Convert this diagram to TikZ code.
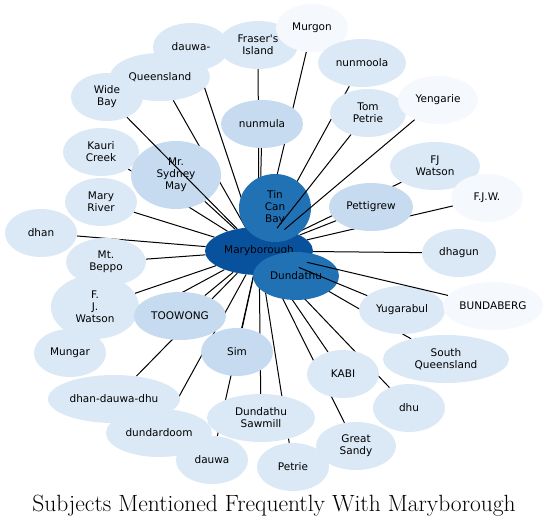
\documentclass[tikz,border=0pt]{standalone}
\usepackage{fontspec}
\newfontfamily\labelfont{DejaVu Sans}
\usetikzlibrary{shapes.geometric}
\pgfdeclarelayer{background}
\pgfsetlayers{background,main}

\definecolor{palest}{HTML}{F5F9FE}
\definecolor{pale}{HTML}{DBE9F6}
\definecolor{midblue}{HTML}{C6DBEF}
\definecolor{darkblue}{HTML}{2171B5}
\definecolor{deepblue}{HTML}{08519C}

\begin{document}
\begin{tikzpicture}[
  x=1pt, y=-1pt,
  bubble/.style={ellipse,draw=none,inner sep=0pt,align=center,
                 font=\labelfont\fontsize{10.5}{12}\selectfont,
                 minimum width=72pt,minimum height=48pt},
  t1/.style={bubble,fill=palest},
  t2/.style={bubble,fill=pale},
  t3/.style={bubble,fill=midblue},
  t4/.style={bubble,fill=darkblue},
  t5/.style={bubble,fill=deepblue},
  link/.style={line width=1pt,black}
]
\useasboundingbox (0,0) rectangle (549,527);

% outer ring
\node[t2,minimum width=100pt] (qld)    at (160,77)  {Queensland};
\node[t2] (widebay) at (107,97)  {Wide\\Bay};
\node[t2,minimum width=76pt]  (dauwah) at (191,47)  {dauwa-};
\node[t2,minimum width=80pt]  (fraser) at (258,45)  {Fraser's\\Island};
\node[t1] (murgon)  at (312,28)  {Murgon};
\node[t2,minimum width=88pt]  (nunmoola) at (362,63) {nunmoola};
\node[t2,minimum width=76pt]  (tompetrie) at (368,113) {Tom\\Petrie};
\node[t1,minimum width=80pt]  (yengarie) at (438,100) {Yengarie};
\node[t3,minimum width=82pt]  (nunmula) at (262,124) {nunmula};
\node[t2,minimum width=76pt]  (kauri)   at (101,152) {Kauri\\Creek};
\node[t3,minimum width=90pt,minimum height=68pt] (sydney) at (176,175) {Mr.\\Sydney\\May};
\node[t2,minimum width=90pt]  (fjwatson) at (435,166) {FJ\\Watson};
\node[t1] (fjw)     at (487,198) {F.J.W.};
\node[t3,minimum width=84pt]  (pettigrew) at (371,207) {Pettigrew};
\node[t2] (maryriver) at (101,202) {Mary\\River};
\node[t2] (dhan)    at (41,233)  {dhan};
\node[t2,minimum width=80pt]  (beppo)   at (106,262) {Mt.\\Beppo};
\node[t2,minimum width=88pt,minimum height=64pt] (fjwat) at (95,307) {F.\\J.\\Watson};
\node[t2] (mungar)  at (70,353)  {Mungar};
\node[t3,minimum width=92pt]  (toowong) at (180,316) {TOOWONG};
\node[t3] (sim)     at (237,352) {Sim};
\node[t2,minimum width=74pt]  (dhagun)  at (459,253) {dhagun};
\node[t2,minimum width=86pt]  (yugarabul) at (402,310) {Yugarabul};
\node[t1,minimum width=100pt] (bundaberg) at (493,306) {BUNDABERG};
\node[t2,minimum width=126pt] (southqld) at (446,359) {South\\Queensland};
\node[t2] (kabi)    at (343,374) {KABI};
\node[t2] (dhu)     at (409,408) {dhu};
\node[t2,minimum width=132pt] (ddd)     at (114,399) {dhan-dauwa-dhu};
\node[t2,minimum width=106pt] (dundardoom) at (159,433) {dundardoom};
\node[t2] (dauwa)   at (212,460) {dauwa};
\node[t2,minimum width=108pt] (sawmill) at (261,418) {Dundathu\\Sawmill};
\node[t2,minimum width=80pt]  (greatsandy) at (356,446) {Great\\Sandy};
\node[t2] (petrie)  at (293,467) {Petrie};

% centre
\node[t5,minimum width=108pt] (mboro) at (259,251) {Maryborough};
\node[t4,minimum width=72pt,minimum height=68pt] (tincan) at (275,208) {Tin\\Can\\Bay};
\node[t4,minimum width=86pt] (dundathu) at (296,276) {Dundathu};

\begin{pgfonlayer}{background}
\foreach \n in {qld,dauwah,fraser,murgon,nunmoola,nunmula,kauri,sydney,
                fjwatson,fjw,pettigrew,maryriver,dhan,beppo,fjwat,mungar,
                toowong,sim,dhagun,southqld,kabi,dhu,ddd,dundardoom,dauwa,
                sawmill,greatsandy,petrie}
  \draw[link] (mboro) -- (\n);
\end{pgfonlayer}
\foreach \n in {widebay,tompetrie,yengarie,yugarabul,bundaberg}
  \draw[link] (mboro) -- (\n);

\node[font=\fontsize{23.5}{28}\selectfont] (title) at (274,506)
  {Subjects Mentioned Frequently With Maryborough};
\end{tikzpicture}
\end{document}
